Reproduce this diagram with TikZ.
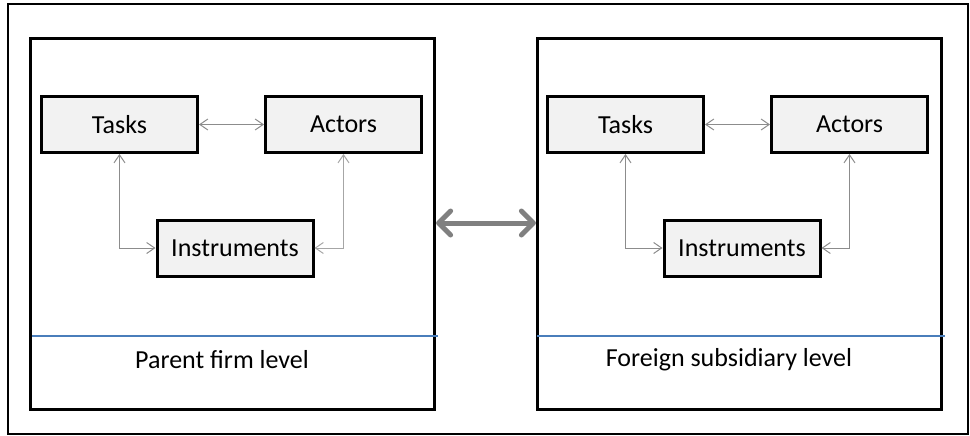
\documentclass[tikz,border=0pt]{standalone}
\usepackage{fontspec}
\setmainfont{Carlito}
\usetikzlibrary{arrows.meta}
\definecolor{boxfill}{HTML}{F2F2F2}
\definecolor{linkgray}{HTML}{8C8C8C}
\definecolor{linklight}{HTML}{A6A6A6}
\definecolor{biggray}{HTML}{808080}
\definecolor{levelblue}{HTML}{4A7EBB}
\tikzset{
  conceptbox/.style={draw=black, fill=boxfill, line width=3pt, minimum width=156pt, minimum height=56pt, inner sep=0pt, font=\fontsize{26}{30}\selectfont},
  panelbox/.style={draw=black, line width=3.2pt, minimum width=404pt, minimum height=371pt, inner sep=0pt},
  levellabel/.style={font=\fontsize{26}{30}\selectfont, inner sep=0pt},
  smalllink/.style={draw=linkgray, line width=1pt, {Straight Barb[length=8pt,width=11pt]}-{Straight Barb[length=8pt,width=11pt]}},
  lightlink/.style={smalllink, draw=linklight},
  biglink/.style={draw=biggray, line width=5pt, line cap=round, {Straight Barb[length=12pt,width=24pt,round]}-{Straight Barb[length=12pt,width=24pt,round]}},
  levelline/.style={draw=levelblue, line width=1.2pt}
}
\begin{document}
\begin{tikzpicture}[x=1pt,y=-1pt]
\useasboundingbox (0,0) rectangle (970,436);
\node[draw=black, line width=2.4pt, minimum width=960pt, minimum height=430pt, inner sep=0pt] (frame) at (488,219) {};
% left panel
\node[panelbox] (lpanel) at (232.5,224) {};
\node[conceptbox] (ltasks) at (119.5,124.5) {Tasks};
\node[conceptbox] (lactors) at (343.5,124.5) {Actors};
\node[conceptbox] (linstr) at (235,248) {Instruments};
\coordinate (lla) at (32,336);
\coordinate (llb) at (438,336);
\draw[levelline] (lla) -- (llb);
\node[levellabel] (llabel) at (222,360) {Parent firm level};
\draw[smalllink] (ltasks.east) -- (lactors.west);
\draw[smalllink] (ltasks.south) |- (linstr.west);
\draw[lightlink] (lactors.south) |- (linstr.east);
% right panel
\node[panelbox] (rpanel) at (739.5,224) {};
\node[conceptbox] (rtasks) at (625.5,124.5) {Tasks};
\node[conceptbox] (ractors) at (849.5,124.5) {Actors};
\node[conceptbox] (rinstr) at (742,248) {Instruments};
\coordinate (rla) at (537,336);
\coordinate (rlb) at (945,336);
\draw[levelline] (rla) -- (rlb);
\node[levellabel] (rlabel) at (729,360) {Foreign subsidiary level};
\draw[smalllink] (rtasks.east) -- (ractors.west);
\draw[smalllink] (rtasks.south) |- (rinstr.west);
\draw[smalllink] (ractors.south) |- (rinstr.east);
% between panels
\draw[biglink] ([yshift=1pt]lpanel.east) -- ([yshift=1pt]rpanel.west);
\end{tikzpicture}
\end{document}
